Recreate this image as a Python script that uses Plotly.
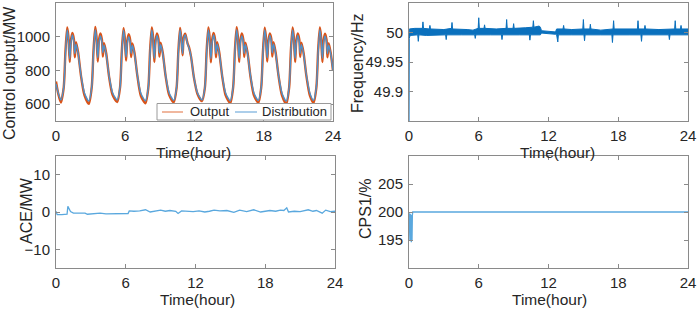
import plotly.graph_objects as go

W, H = 699, 311

# ---------------- data ----------------
time_ticks = [0, 6, 12, 18, 24]

# Control output (hours, MW)
ctrl_t = [0.00, 0.20,
          0.42, 0.67, 0.82, 0.97, 1.07, 1.19, 1.29, 1.42, 1.55, 1.63, 1.74, 1.92, 2.17, 2.47,
          2.85, 3.10, 3.25, 3.40, 3.50, 3.62, 3.72, 3.85, 3.98, 4.06, 4.17, 4.35, 4.60, 4.90,
          5.30, 5.55, 5.70, 5.85, 5.95, 6.07, 6.17, 6.30, 6.43, 6.51, 6.62, 6.80, 7.05, 7.35,
          7.75, 8.00, 8.15, 8.30, 8.40, 8.52, 8.62, 8.75, 8.88, 8.96, 9.07, 9.25, 9.50, 9.80,
          10.20, 10.45, 10.60, 10.75, 10.85, 10.97, 11.07, 11.20, 11.33, 11.41, 11.52, 11.70, 11.95, 12.25,
          12.65, 12.90, 13.05, 13.20, 13.30, 13.42, 13.52, 13.65, 13.78, 13.86, 13.97, 14.15, 14.40, 14.70,
          15.10, 15.35, 15.50, 15.65, 15.75, 15.87, 15.97, 16.10, 16.23, 16.31, 16.42, 16.60, 16.85, 17.15,
          17.53, 17.78, 17.93, 18.08, 18.18, 18.30, 18.40, 18.53, 18.66, 18.74, 18.85, 19.03, 19.28, 19.58,
          19.95, 20.20, 20.35, 20.50, 20.60, 20.72, 20.82, 20.95, 21.08, 21.16, 21.27, 21.45, 21.70, 22.00,
          22.31, 22.56, 22.71, 22.86, 22.96, 23.08, 23.18, 23.31, 23.44, 23.52, 23.63, 23.81, 24.00]

distribution_mw = [720, 665,
          625, 700, 900, 1040, 990, 870, 960, 1010, 970, 900, 955, 900, 770, 665,
          618, 705, 905, 1042, 992, 875, 962, 1005, 968, 905, 950, 895, 768, 668,
          625, 702, 900, 1038, 988, 880, 958, 1000, 965, 902, 948, 898, 772, 665,
          620, 700, 905, 1040, 990, 872, 960, 1008, 968, 905, 952, 900, 770, 668,
          622, 700, 900, 1040, 985, 900, 990, 1010, 975, 955, 935, 880, 760, 668,
          625, 700, 902, 1040, 990, 870, 960, 1010, 970, 900, 955, 900, 770, 665,
          620, 702, 905, 1042, 992, 872, 962, 1005, 968, 902, 952, 898, 768, 666,
          622, 700, 900, 1040, 990, 875, 960, 1008, 970, 905, 955, 900, 772, 665,
          618, 700, 905, 1040, 988, 872, 960, 1008, 968, 902, 952, 898, 770, 665,
          622, 702, 905, 1040, 990, 872, 960, 1005, 965, 900, 950, 895, 800]

output_mw = [735, 660,
          610, 700, 915, 1055, 1005, 850, 975, 1022, 985, 878, 968, 905, 765, 652,
          602, 703, 918, 1058, 1008, 852, 978, 1020, 982, 882, 962, 902, 762, 655,
          612, 700, 912, 1050, 1000, 858, 972, 1015, 980, 880, 960, 905, 768, 650,
          605, 698, 918, 1055, 1005, 850, 975, 1020, 985, 882, 965, 905, 765, 655,
          610, 698, 912, 1052, 995, 890, 998, 1018, 980, 958, 938, 882, 758, 662,
          618, 698, 915, 1055, 1005, 848, 975, 1022, 985, 878, 968, 905, 765, 652,
          605, 700, 918, 1056, 1006, 850, 976, 1020, 984, 880, 965, 904, 764, 652,
          608, 698, 912, 1054, 1004, 852, 974, 1020, 986, 882, 967, 906, 768, 652,
          602, 698, 918, 1055, 1002, 850, 975, 1020, 984, 880, 965, 904, 765, 650,
          608, 700, 918, 1055, 1004, 850, 975, 1018, 982, 878, 962, 900, 798]

# Frequency band: upper and lower envelopes (hours, Hz)
freq_hi_t = [0.00, 0.03, 0.5, 1.15, 1.2, 1.25, 1.75, 1.8, 1.85, 2.5, 3.0, 3.65, 3.7, 3.75,
             4.5, 5.0, 5.5, 5.95, 6.0, 6.05, 6.45, 6.5, 6.55, 7.5, 8.35, 8.4, 8.45, 8.95, 9.0, 9.05,
             10.0, 10.65, 10.7, 10.75, 11.2, 11.3, 11.4, 12.0, 12.6, 12.7, 13.25, 13.3, 13.35,
             14.0, 14.95, 15.0, 15.05, 15.55, 15.6, 15.65, 16.5, 17.55, 17.6, 17.65, 18.5,
             19.65, 19.7, 19.75, 20.25, 20.3, 20.35, 21.5, 22.85, 22.9, 22.95, 23.35, 23.4, 23.45, 24.0]
freq_hi = [49.996, 50.006, 50.007, 50.007, 50.018, 50.007, 50.006, 50.012, 50.006, 50.006, 50.005, 50.007, 50.017, 50.006,
           50.006, 50.005, 50.004, 50.007, 50.025, 50.007, 50.007, 50.013, 50.007, 50.006, 50.007, 50.022, 50.007, 50.007, 50.015, 50.007,
           50.008, 50.009, 50.020, 50.009, 50.011, 50.009, 50.003, 50.002, 50.001, 50.006, 50.006, 50.012, 50.006,
           50.005, 50.006, 50.022, 50.006, 50.006, 50.014, 50.006, 50.004, 50.006, 50.020, 50.006, 50.006,
           50.006, 50.020, 50.006, 50.006, 50.012, 50.006, 50.005, 50.006, 50.020, 50.006, 50.006, 50.012, 50.006, 50.006]
freq_lo_t = [0.00, 0.02, 0.1, 0.75, 0.8, 0.85, 1.5, 3.15, 3.2, 3.25, 4.5, 5.65, 5.7, 5.75, 7.0,
             7.95, 8.0, 8.05, 9.5, 10.35, 10.4, 10.45, 11.3, 11.4, 12.0, 12.6, 12.7, 12.75, 12.8, 12.85,
             14.0, 15.05, 15.1, 15.15, 16.5, 17.45, 17.5, 17.55, 19.0, 19.95, 20.0, 20.05, 21.5,
             22.35, 22.4, 22.45, 24.0]
freq_lo = [49.85, 49.990, 49.995, 49.996, 49.985, 49.996, 49.995, 49.996, 49.988, 49.996, 49.996, 49.996, 49.990, 49.996, 49.996,
           49.996, 49.988, 49.996, 49.996, 49.996, 49.987, 49.996, 49.996, 49.999, 49.998, 49.997, 49.996, 49.996, 49.984, 49.996,
           49.996, 49.996, 49.986, 49.996, 49.996, 49.996, 49.983, 49.996, 49.996, 49.996, 49.985, 49.996, 49.996,
           49.996, 49.988, 49.996, 49.996]

# ACE (hours, MW)
ace_t = [0, 0.1, 0.5, 0.95, 1.02, 1.08, 1.25, 1.5, 2.0, 2.5, 2.7, 3.2, 3.8, 4.3, 5.0, 5.5, 6.0, 6.2, 6.3, 6.7,
         7.2, 7.7, 8.1, 8.5, 9.0, 9.4, 9.8, 10.3, 10.5, 10.8, 11.3, 11.8, 12.3, 12.8, 13.2, 13.6, 14.1, 14.7, 15.3, 15.8,
         16.4, 17.0, 17.6, 18.0, 18.4, 18.9, 19.3, 19.6, 19.85, 20.0, 20.5, 21.0, 21.4, 21.7, 22.1, 22.4, 22.9, 23.2, 23.6, 24.0]
ace_mw = [0.2, -0.7, -0.7, -0.6, 1.5, 1.2, 0.1, -0.3, -0.3, -0.3, -0.6, -0.4, -0.3, -0.5, -0.5, -0.6, -0.5, -0.4, 0.3, 0.2,
          0.3, 0.6, 0.0, 0.3, 0.5, 0.2, 0.4, 0.2, -0.4, 0.3, 0.2, 0.1, 0.3, 0.0, 0.2, 0.5, 0.3, 0.4, -0.1, 0.5,
          0.1, 0.6, 0.0, 0.3, 0.4, 0.2, 0.5, 0.4, 1.1, 0.0, 0.2, 0.1, 0.3, 0.6, 0.2, 0.4, -0.3, 0.5, 0.1, 0.2]

# CPS1 (hours, %)
cps_t = [0, 0.02, 0.05, 0.08, 0.11, 0.14, 0.17, 0.2, 0.23, 0.26, 0.29, 0.32, 24]
cps_pct = [200, 195.2, 199.6, 195.0, 199.7, 194.8, 199.6, 194.6, 199.5, 195.0, 199.4, 200, 200]

# ---------------- styling ----------------
FONT = "Liberation Sans, Arial, sans-serif"
TXT = "#262626"
AX = "#8a8a8a"
ORANGE = "#D95319"
BLUE = "#4f90c8"
FREQ_BLUE = "#0a70bd"
LIGHT_BLUE = "#5aa8de"

def px(x):
    return x / W

def py(y):
    return 1 - y / H

dom = {
    "tl": ([px(56), px(333)], [py(121), py(3)]),
    "tr": ([px(409), px(688)], [py(121), py(3)]),
    "bl": ([px(56), px(335)], [py(268), py(156)]),
    "br": ([px(409), px(688)], [py(268), py(156)]),
}

fig = go.Figure()

fig.add_trace(go.Scatter(x=ctrl_t, y=output_mw, mode="lines", name="Output",
                         line=dict(color=ORANGE, width=2.4, shape="spline", smoothing=0.7),
                         xaxis="x", yaxis="y", showlegend=False))
fig.add_trace(go.Scatter(x=ctrl_t, y=distribution_mw, mode="lines", name="Distribution",
                         line=dict(color=BLUE, width=1.4, shape="spline", smoothing=0.7),
                         xaxis="x", yaxis="y", showlegend=False))

band_x = list(freq_hi_t) + list(reversed(freq_lo_t))
band_y = list(freq_hi) + list(reversed(freq_lo))
fig.add_trace(go.Scatter(x=band_x, y=band_y, mode="lines", fill="toself",
                         fillcolor=FREQ_BLUE, line=dict(color=FREQ_BLUE, width=1),
                         xaxis="x2", yaxis="y2", showlegend=False))

fig.add_trace(go.Scatter(x=ace_t, y=ace_mw, mode="lines",
                         line=dict(color=LIGHT_BLUE, width=1.3),
                         xaxis="x3", yaxis="y3", showlegend=False))

fig.add_trace(go.Scatter(x=cps_t, y=cps_pct, mode="lines",
                         line=dict(color=LIGHT_BLUE, width=1.3),
                         xaxis="x4", yaxis="y4", showlegend=False))

def xaxis(domain, anchor):
    return dict(domain=domain, anchor=anchor, range=[0, 24], tickvals=time_ticks,
                showline=True, linecolor=AX, linewidth=1, mirror="allticks",
                ticks="inside", ticklen=4, tickcolor=AX, showgrid=False, zeroline=False,
                automargin=False,
                tickfont=dict(family=FONT, size=15, color=TXT), ticklabelstandoff=1)

def yaxis(domain, anchor, rng, vals, texts=None):
    d = dict(domain=domain, anchor=anchor, range=rng, tickvals=vals,
             showline=True, linecolor=AX, linewidth=1, mirror="allticks",
             ticks="inside", ticklen=4, tickcolor=AX, showgrid=False, zeroline=False,
             automargin=False,
             tickfont=dict(family=FONT, size=15, color=TXT), ticklabelstandoff=2)
    if texts is not None:
        d["ticktext"] = texts
    return d

fig.update_layout(
    width=W, height=H, margin=dict(l=0, r=0, t=0, b=0, autoexpand=False),
    paper_bgcolor="white", plot_bgcolor="white", showlegend=False,
    xaxis=xaxis(dom["tl"][0], "y"),
    yaxis=yaxis(dom["tl"][1], "x", [500, 1200], [600, 800, 1000]),
    xaxis2=xaxis(dom["tr"][0], "y2"),
    yaxis2=yaxis(dom["tr"][1], "x2", [49.85, 50.05], [49.9, 49.95, 50.0], ["49.9", "49.95", "50"]),
    xaxis3=xaxis(dom["bl"][0], "y3"),
    yaxis3=yaxis(dom["bl"][1], "x3", [-15, 15], [-10, 0, 10]),
    xaxis4=xaxis(dom["br"][0], "y4"),
    yaxis4=yaxis(dom["br"][1], "x4", [190, 210], [195, 200, 205]),
)

ann = []
def title(text, x, y, angle=0, size=16):
    ann.append(dict(text=text, x=px(x), y=py(y), xref="paper", yref="paper",
                    xanchor="center", yanchor="middle", showarrow=False, textangle=angle,
                    font=dict(family=FONT, size=size, color=TXT)))

title("Time(hour)", 193, 152.5, size=15.5)
title("Time(hour)", 557, 152.5, size=15.5)
title("Time(hour)", 197, 299.5, size=15.5)
title("Time(hour)", 549, 299.5, size=15.5)
title("Control output/MW", 9, 73, -90)
title("Frequency/Hz", 358, 63, -90)
title("ACE/MW", 26, 211, -90)
title("CPS1/%", 366, 209, -90)

# legend (drawn manually to match the compact MATLAB legend)
ann.append(dict(text="Output", x=px(188), y=py(112), xref="paper", yref="paper",
                xanchor="left", yanchor="middle", showarrow=False,
                font=dict(family=FONT, size=13, color=TXT)))
ann.append(dict(text="Distribution", x=px(260), y=py(112), xref="paper", yref="paper",
                xanchor="left", yanchor="middle", showarrow=False,
                font=dict(family=FONT, size=13, color=TXT)))
fig.update_layout(annotations=ann)

shapes = [
    dict(type="rect", xref="paper", yref="paper", x0=px(157), x1=px(331), y0=py(120), y1=py(103.5),
         fillcolor="white", line=dict(color="#9a9a9a", width=1), layer="above"),
    dict(type="line", xref="paper", yref="paper", x0=px(162), x1=px(183), y0=py(112), y1=py(112),
         line=dict(color="#e8906a", width=1.3), layer="above"),
    dict(type="line", xref="paper", yref="paper", x0=px(235), x1=px(257), y0=py(112), y1=py(112),
         line=dict(color="#7fb3df", width=1.3), layer="above"),
]
fig.update_layout(shapes=shapes)

fig.write_html("out.html", config={"displayModeBar": False},
               post_script="document.body.style.margin='0';document.body.style.overflow='hidden';")
